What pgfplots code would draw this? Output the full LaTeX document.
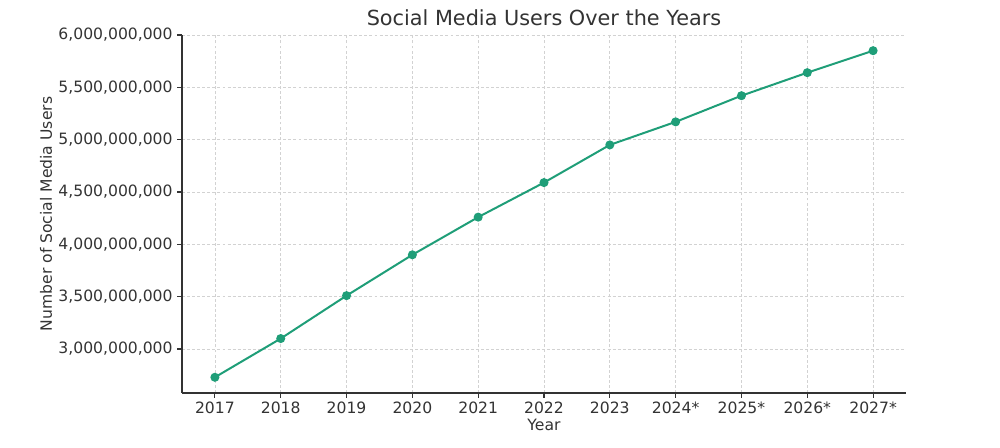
\documentclass[border=0pt]{standalone}
\usepackage{pgfplots}
\pgfplotsset{compat=1.18}
\usepackage{fontspec}
\setmainfont{DejaVu Sans}
\definecolor{txt}{HTML}{333333}
\definecolor{ln}{HTML}{1F9E78}
\begin{document}
\begin{tikzpicture}
\path[use as bounding box] (0pt,0pt) rectangle (750pt,336pt);
\begin{axis}[
  at={(136.5pt,41.25pt)}, anchor=south west,
  scale only axis, width=543pt, height=268.5pt,
  xmin=-0.5, xmax=10.5, ymin=2580000000, ymax=6000000000,
  scaled y ticks=false,
  xtick={0,...,10},
  xticklabels={2017,2018,2019,2020,2021,2022,2023,2024*,2025*,2026*,2027*},
  ytick={3000000000,3500000000,4000000000,4500000000,5000000000,5500000000,6000000000},
  yticklabels={{3,000,000,000},{3,500,000,000},{4,000,000,000},{4,500,000,000},{5,000,000,000},{5,500,000,000},{6,000,000,000}},
  axis x line*=bottom, axis y line*=left,
  x axis line style={-}, y axis line style={-},
  axis line style={draw=txt, line width=0.9pt},
  tick align=outside, major tick length=3.5pt,
  tick style={draw=txt, line width=0.8pt},
  grid=major,
  major grid style={dash pattern=on 2.2pt off 1.6pt, draw=gray!35, line width=0.5pt},
  ticklabel style={font=\fontsize{11.7}{13}\selectfont, text=txt},
  title={Social Media Users Over the Years},
  title style={font=\fontsize{15.6}{18}\selectfont, text=txt, yshift=-3pt},
  xlabel={Year}, ylabel={Number of Social Media Users},
  label style={font=\fontsize{11.7}{13}\selectfont, text=txt},
  xlabel style={yshift=3pt},
  ylabel style={yshift=-2pt},
  /pgf/number format/assume math mode=true,
]
\addplot[color=ln, line width=1.5pt, mark=*, mark size=2.6pt, mark options={fill=ln, draw=ln}]
coordinates {
(0,2730000000) (1,3100000000) (2,3510000000) (3,3900000000) (4,4260000000)
(5,4590000000) (6,4950000000) (7,5170000000) (8,5420000000) (9,5640000000) (10,5850000000)
};
\end{axis}
\end{tikzpicture}
\end{document}
